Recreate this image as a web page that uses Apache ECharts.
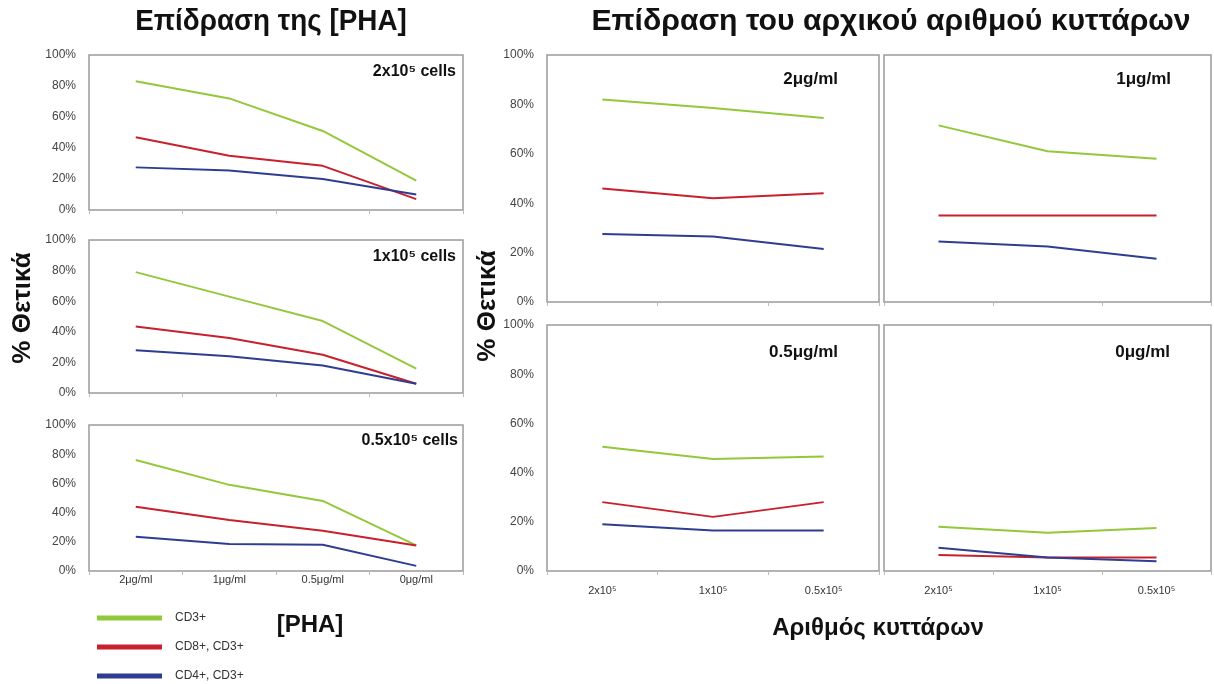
<!DOCTYPE html>
<html>
<head>
<meta charset="utf-8">
<script src="https://cdn.jsdelivr.net/npm/echarts@6/dist/echarts.min.js"></script>
<style>html,body{margin:0;padding:0;background:#fff}#c{width:1214px;height:684px}</style>
</head>
<body>
<div id="c"></div>
<script>
// ---- categories ----
const phaCats = ['2μg/ml', '1μg/ml', '0.5μg/ml', '0μg/ml'];
const cellCats = ['2x10⁵', '1x10⁵', '0.5x10⁵'];
const seriesNames = ['CD3+', 'CD8+, CD3+', 'CD4+, CD3+'];

// ---- left: effect of [PHA], per starting cell number ----
const cd3_2e5 = [83, 72, 51, 19];
const cd8_2e5 = [47, 35, 28.5, 7];
const cd4_2e5 = [27.5, 25.5, 20, 10];

const cd3_1e5 = [79, 63, 47, 16];
const cd8_1e5 = [43.5, 36, 25, 6];
const cd4_1e5 = [28, 24, 18, 6];

const cd3_05e5 = [76, 59, 48, 17.5];
const cd8_05e5 = [44, 35, 27.5, 17.5];
const cd4_05e5 = [23.5, 18.5, 18, 3.5];

// ---- right: effect of starting cell number, per [PHA] ----
const cd3_2ug = [82, 78.5, 74.5];
const cd8_2ug = [46, 42, 44];
const cd4_2ug = [27.5, 26.5, 21.5];

const cd3_1ug = [71.5, 61, 58];
const cd8_1ug = [35, 35, 35];
const cd4_1ug = [24.5, 22.5, 17.5];

const cd3_05ug = [50.5, 45.5, 46.5];
const cd8_05ug = [28, 22, 28];
const cd4_05ug = [19, 16.5, 16.5];

const cd3_0ug = [18, 15.5, 17.5];
const cd8_0ug = [6.5, 5.5, 5.5];
const cd4_0ug = [9.5, 5.5, 4];

const panelLabels = ['2x10⁵ cells', '1x10⁵ cells', '0.5x10⁵ cells', '2μg/ml', '1μg/ml', '0.5μg/ml', '0μg/ml'];

const colors = ['#93c83a', '#c8202c', '#2f3d91'];
const FONT = "'Liberation Sans', Arial, sans-serif";

const panels = [
  { grid: { left: 89, top: 55, width: 374, height: 155 }, cats: phaCats, data: [cd3_2e5, cd8_2e5, cd4_2e5], showX: false, showY: true },
  { grid: { left: 89, top: 240, width: 374, height: 153 }, cats: phaCats, data: [cd3_1e5, cd8_1e5, cd4_1e5], showX: false, showY: true },
  { grid: { left: 89, top: 425, width: 374, height: 146 }, cats: phaCats, data: [cd3_05e5, cd8_05e5, cd4_05e5], showX: true, showY: true },
  { grid: { left: 547, top: 55, width: 332, height: 247 }, cats: cellCats, data: [cd3_2ug, cd8_2ug, cd4_2ug], showX: false, showY: true },
  { grid: { left: 884, top: 55, width: 327, height: 247 }, cats: cellCats, data: [cd3_1ug, cd8_1ug, cd4_1ug], showX: false, showY: false },
  { grid: { left: 547, top: 325, width: 332, height: 246 }, cats: cellCats, data: [cd3_05ug, cd8_05ug, cd4_05ug], showX: true, showY: true },
  { grid: { left: 884, top: 325, width: 327, height: 246 }, cats: cellCats, data: [cd3_0ug, cd8_0ug, cd4_0ug], showX: true, showY: false }
];
const labelPos = [
  [456, 72], [456, 257], [458, 441],
  [838, 79], [1171, 79], [838, 352], [1170, 352]
];

const grids = [], xAxes = [], yAxes = [], series = [];
panels.forEach((p, i) => {
  grids.push(Object.assign({ show: true, borderColor: '#9a9a9a', borderWidth: 1.5, backgroundColor: '#fff' }, p.grid));
  xAxes.push({
    type: 'category', gridIndex: i, data: p.cats, boundaryGap: true,
    axisLine: { show: false },
    axisTick: { show: true, length: 4, lineStyle: { color: '#bbb' } },
    axisLabel: { show: p.showX, color: '#333', fontSize: 11, fontFamily: FONT, margin: i < 3 ? 3 : 14 }
  });
  yAxes.push({
    type: 'value', gridIndex: i, min: 0, max: 100, interval: 20,
    axisLine: { show: false }, axisTick: { show: false }, splitLine: { show: false },
    axisLabel: { show: p.showY, color: '#444', fontSize: 12, fontFamily: FONT, margin: 13, formatter: '{value}%' }
  });
  p.data.forEach((d, k) => {
    series.push({
      name: seriesNames[k], type: 'line', xAxisIndex: i, yAxisIndex: i, data: d,
      symbol: 'none', silent: true, animation: false,
      lineStyle: { color: colors[k], width: 2 }, itemStyle: { color: colors[k] }
    });
  });
});

const graphic = [
  { type: 'text', x: 271, y: 22, scaleX: 0.96, style: { text: 'Επίδραση της [PHA]', font: 'bold 29px ' + FONT, fill: '#111', align: 'center', verticalAlign: 'middle' } },
  { type: 'text', x: 891, y: 22, scaleX: 1.04, style: { text: 'Επίδραση του αρχικού αριθμού κυττάρων', font: 'bold 29px ' + FONT, fill: '#111', align: 'center', verticalAlign: 'middle' } },
  { type: 'text', x: 23, y: 308, rotation: Math.PI / 2, style: { text: '% Θετικά', font: 'bold 26px ' + FONT, fill: '#111', align: 'center', verticalAlign: 'middle' } },
  { type: 'text', x: 488, y: 306, rotation: Math.PI / 2, style: { text: '% Θετικά', font: 'bold 26px ' + FONT, fill: '#111', align: 'center', verticalAlign: 'middle' } },
  { type: 'text', x: 310, y: 625, style: { text: '[PHA]', font: 'bold 24px ' + FONT, fill: '#111', align: 'center', verticalAlign: 'middle' } },
  { type: 'text', x: 878, y: 628, style: { text: 'Αριθμός κυττάρων', font: 'bold 24px ' + FONT, fill: '#111', align: 'center', verticalAlign: 'middle' } }
];
panelLabels.forEach((t, i) => {
  graphic.push({ type: 'text', x: labelPos[i][0], y: labelPos[i][1], z: 100,
    style: { text: t, font: 'bold ' + (i < 3 ? 16 : 17) + 'px ' + FONT, fill: '#111', align: 'right', verticalAlign: 'middle' } });
});

const chart = echarts.init(document.getElementById('c'), null, { renderer: 'canvas' });
chart.setOption({
  animation: false,
  backgroundColor: '#fff',
  grid: grids, xAxis: xAxes, yAxis: yAxes, series: series,
  legend: {
    data: seriesNames, orient: 'vertical', left: 97, top: 612, padding: 0,
    icon: 'rect', itemWidth: 65, itemHeight: 5, itemGap: 17,
    selectedMode: false,
    textStyle: { color: '#333', fontSize: 12, lineHeight: 12, fontFamily: FONT, padding: [0, 0, 0, 8] }
  },
  graphic: graphic
});
</script>
</body>
</html>
